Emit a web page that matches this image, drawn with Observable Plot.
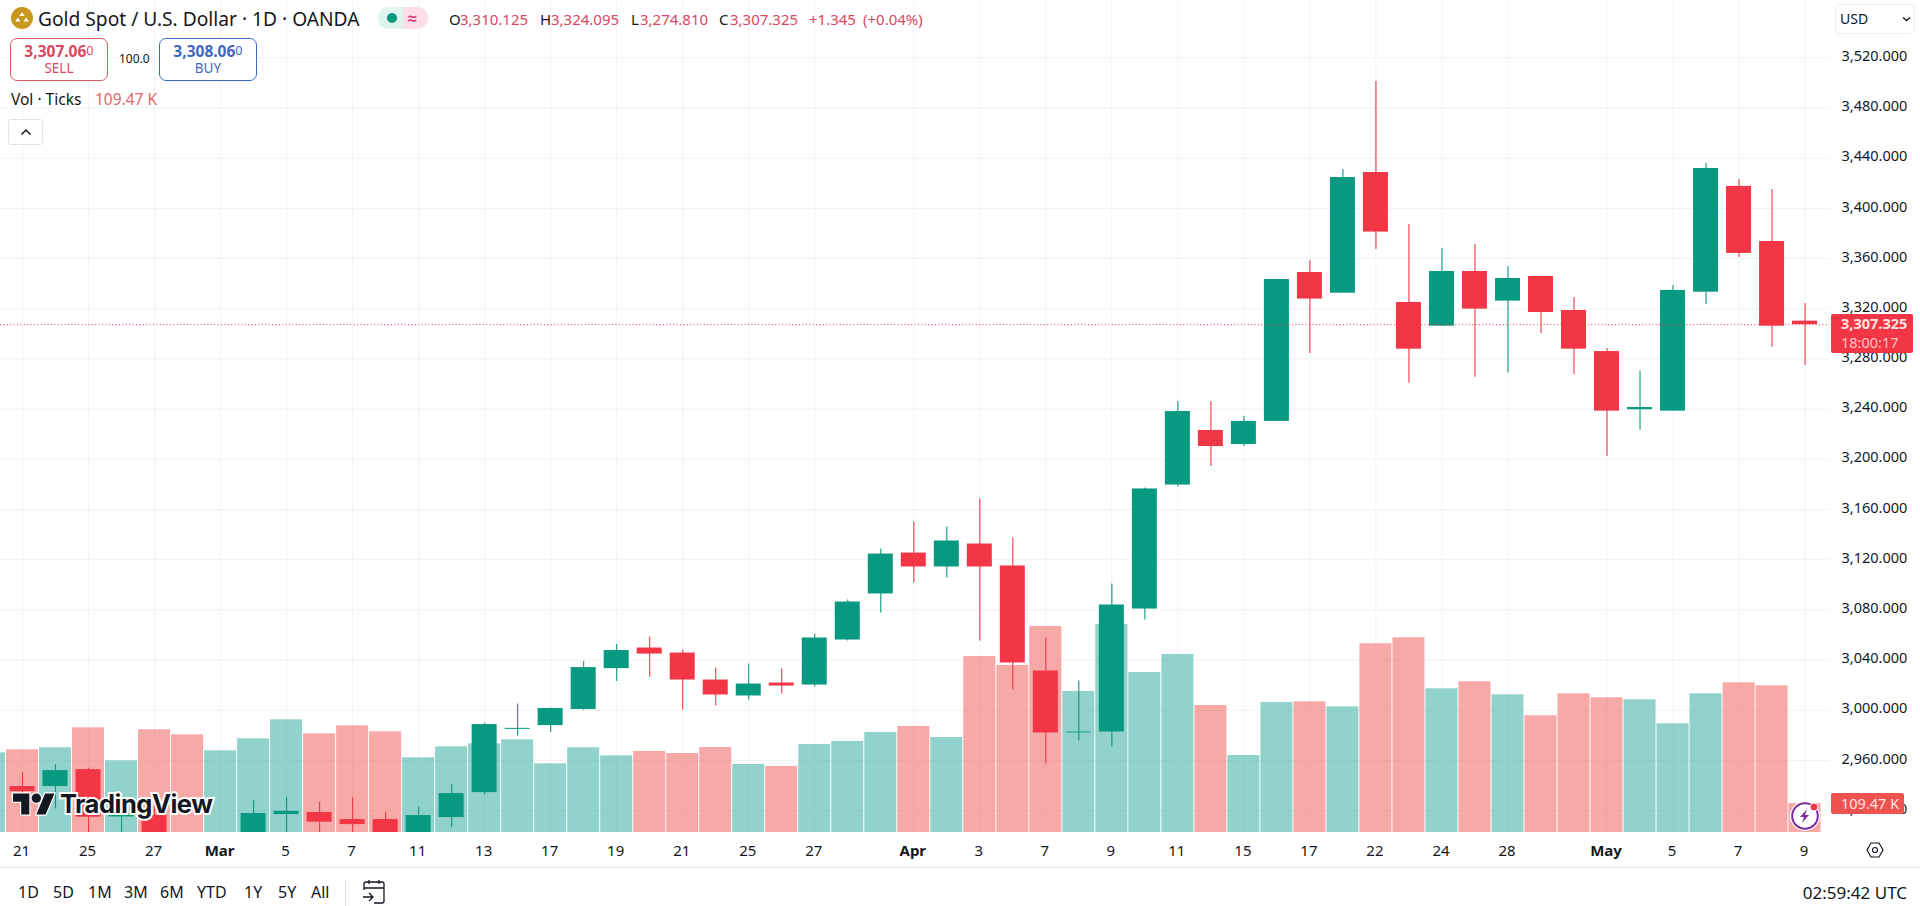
<!DOCTYPE html>
<html>
<head>
<meta charset="utf-8">
<script src="https://cdn.jsdelivr.net/npm/d3@7"></script>
<script src="https://cdn.jsdelivr.net/npm/@observablehq/plot@0.6"></script>
<style>
html,body{margin:0;padding:0;background:#fff;width:1920px;height:906px;overflow:hidden}
body{font-family:"Noto Sans",sans-serif;color:#131722;position:relative}
#chart{position:absolute;left:0;top:0}
.t{position:absolute;white-space:nowrap;line-height:1;transform:translateY(-50%)}
.box{position:absolute;box-sizing:border-box;background:#fff}
.red{color:#d9485e}
sup{font-size:.82em;font-weight:400;vertical-align:baseline;position:relative;top:-.12em}
svg.icon{position:absolute;overflow:visible}
</style>
</head>
<body>
<div id="chart"></div>
<script>
// Session labels, one per bar (first bar is cut off by the left edge)
const sessions = ["Feb 20","21","Feb 24","25","Feb 26","27","Feb 28","Mar","Mar 4","5","Mar 6","7","Mar 10","11","Mar 12","13","Mar 14","17","Mar 18","19","Mar 20","21","Mar 24","25","Mar 26","27","Mar 28","Mar 31","Apr","Apr 2","3","Apr 4","7","Apr 8","9","Apr 10","11","Apr 14","15","Apr 16","17","Apr 21","22","Apr 23","24","Apr 25","28","Apr 29","Apr 30","May","May 2","5","May 6","7","May 8","9"];
const open  = [null,2939.2,2939.2,2952.7,2915.0,2916.2,2884.0,2858.0,2893.0,2916.9,2918.5,2912.9,2912.9,2898.0,2914.5,2934.4,2984.8,2987.8,3000.6,3033.2,3049.6,3045.6,3024.1,3011.4,3021.7,3020.1,3056.0,3092.7,3125.3,3114.2,3132.5,3115.0,3031.3,2982.0,2982.7,3080.7,3179.5,3223.0,3211.8,3230.2,3348.9,3332.4,3428.6,3325.0,3306.1,3349.7,3326.1,3345.7,3318.6,3285.9,3239.5,3238.4,3333.2,3417.5,3373.6,3310.125];
const high  = [null,2950.4,2956.7,2953.8,2922.0,2925.0,2895.0,2896.0,2928.0,2930.7,2926.7,2930.7,2918.7,2922.7,2940.8,2989.7,3005.1,3001.9,3038.8,3052.4,3058.4,3048.0,3033.7,3036.9,3032.9,3060.8,3087.9,3128.5,3150.1,3146.1,3168.4,3137.3,3057.6,3023.3,3100.6,3177.2,3246.1,3246.1,3234.1,3343.3,3358.5,3431.0,3501.1,3387.2,3368.0,3371.2,3353.7,3345.9,3329.0,3288.3,3270.3,3338.5,3435.8,3423.0,3415.1,3324.095];
const low   = [null,2916.0,2921.4,2890.0,2895.0,2875.0,2845.0,2832.0,2888.0,2895.0,2895.0,2895.0,2880.0,2880.0,2906.3,2932.8,2979.3,2982.2,3000.0,3022.9,3026.3,3000.2,3003.4,3008.2,3013.0,3018.5,3055.2,3077.5,3101.4,3105.4,3055.2,3016.2,2957.2,2975.5,2970.7,3071.9,3178.2,3194.3,3210.2,3230.2,3284.4,3332.4,3367.2,3260.7,3306.1,3265.5,3268.7,3300.3,3267.6,3202.5,3223.2,3238.4,3323.4,3360.9,3289.4,3274.81];
const close = [null,2935.2,2951.9,2914.8,2918.0,2884.0,2857.0,2893.0,2917.7,2919.5,2910.8,2908.9,2898.0,2916.1,2933.6,2988.6,2985.6,3001.4,3034.0,3047.6,3044.8,3024.1,3012.2,3020.9,3019.3,3057.6,3086.3,3124.5,3114.2,3134.9,3114.2,3037.7,2981.9,2982.7,3083.9,3176.4,3238.1,3210.2,3230.2,3343.3,3327.7,3424.6,3381.1,3287.8,3349.7,3319.7,3344.1,3317.0,3287.8,3238.4,3241.3,3334.6,3431.8,3364.1,3306.1,3307.325];
const volumeK = [300.4,311.7,319.3,394.7,270.3,387.2,368.3,308.0,353.2,424.9,372.1,402.2,379.6,281.6,323.0,334.4,349.4,258.9,319.3,289.1,305.5,297.9,320.5,256.4,248.9,331.8,343.2,377.1,399.7,358.2,663.7,629.8,776.8,531.7,784.4,603.4,671.2,478.9,290.4,490.2,492.7,473.9,711.5,734.1,541.8,568.2,519.1,440.0,522.9,507.8,500.3,409.8,522.9,564.4,553.1,109.47];
const priceTicks = [2920,2960,3000,3040,3080,3120,3160,3200,3240,3280,3320,3360,3400,3440,3480,3520];
const dayTicks = ["21","25","27","5","7","11","13","17","19","21","25","27","3","7","9","11","15","17","22","24","28","5","7","9"];
const monthTicks = ["Mar","Apr","May"];
const lastPrice = 3307.325;

const bars = sessions.map((label,k)=>({k,label,o:open[k],h:high[k],l:low[k],c:close[k],v:volumeK[k],
  up:(close[k]??1)>=(open[k]??0)}));
const UP="#089981", DOWN="#F23645", VUP="rgba(38,166,154,.5)", VDOWN="rgba(239,83,80,.5)", GRID="#f0f2f6";

// The volume pane shares the frame: its zero sits on the frame's bottom edge
const priceBottom = 2902.6, priceTop = 3565.66, pricePerK = 0.2114;
const volY = v => priceBottom + v*pricePerK;

const isMonth = d => monthTicks.includes(d.label);
const tickBars = bars.filter(d => monthTicks.includes(d.label) || (/^\d+$/.test(d.label) && dayTicks.includes(d.label)));
const label = k => sessions[k];

const plot = Plot.plot({
  width:1920, height:906,
  marginLeft:0, marginRight:91, marginTop:0, marginBottom:74,
  style:{background:"transparent",fontFamily:'"Noto Sans",sans-serif'},
  x:{type:"linear",domain:[0.3335,55.74],axis:null},
  y:{type:"linear",domain:[priceBottom,priceTop],axis:null},
  color:{type:"identity"},
  marks:[
    Plot.ruleX(tickBars,{x:"k",stroke:GRID,strokeWidth:1}),
    Plot.ruleY(priceTicks,{stroke:GRID,strokeWidth:1}),
    Plot.rect(bars,{x1:d=>d.k-.5,x2:d=>d.k+.5,insetLeft:.5,insetRight:.5,y1:()=>priceBottom,y2:d=>volY(d.v),fill:d=>d.up?VUP:VDOWN,clip:true}),
    Plot.ruleX(bars,{x:"k",y1:"l",y2:"h",stroke:d=>d.up?UP:DOWN,strokeWidth:1.1,clip:true}),
    Plot.rect(bars,{x1:d=>d.k-.5,x2:d=>d.k+.5,insetLeft:4,insetRight:4,y1:"o",y2:"c",fill:d=>d.up?UP:DOWN,clip:true}),
    Plot.ruleY([lastPrice],{stroke:DOWN,strokeWidth:1,strokeDasharray:"1 2.4"}),
    Plot.axisY(priceTicks,{anchor:"right",tickSize:0,tickPadding:12,dy:-1.5,tickFormat:d3.format(",.3f"),fontSize:14.5,fill:"#131722",label:null}),
    Plot.axisX(tickBars.filter(d=>!isMonth(d)).map(d=>d.k),{anchor:"bottom",tickSize:0,tickPadding:13,dx:-1,tickFormat:label,fontSize:15,fill:"#131722",label:null}),
    Plot.axisX(tickBars.filter(isMonth).map(d=>d.k),{anchor:"bottom",tickSize:0,tickPadding:13,dx:-1,tickFormat:label,fontSize:15,fontWeight:700,fill:"#131722",label:null})
  ]
});
document.getElementById("chart").appendChild(plot);
</script>

<!-- header -->
<svg class="icon" style="left:11px;top:7px" width="22" height="22" viewBox="0 0 22 22"><circle cx="11" cy="11" r="11" fill="#C9971C"/><path d="M11 5l2.6 4h-5.2zM6.8 10.5l2.6 4H4.2zM15.2 10.5l2.6 4h-5.2z" fill="#fff"/></svg>
<div class="t" style="left:38px;top:19px;font-size:19.2px">Gold Spot / U.S. Dollar · 1D · OANDA</div>
<div class="box" style="left:378px;top:7px;width:25px;height:22px;background:#dff3ef;border-radius:11px 0 0 11px"></div>
<div class="box" style="left:403px;top:7px;width:25px;height:22px;background:#fcdde8;border-radius:0 11px 11px 0"></div>
<div class="box" style="left:387px;top:13px;width:10px;height:10px;border-radius:50%;background:#089981"></div>
<div class="t" style="left:408px;top:18px;font-size:16px;color:#d8337c;font-weight:700">≈</div>

<div class="t" style="left:449px;top:19px;font-size:15px">O</div>
<div class="t red" style="left:460px;top:19px;font-size:15px">3,310.125</div>
<div class="t" style="left:540px;top:19px;font-size:15px">H</div>
<div class="t red" style="left:551px;top:19px;font-size:15px">3,324.095</div>
<div class="t" style="left:631px;top:19px;font-size:15px">L</div>
<div class="t red" style="left:640px;top:19px;font-size:15px">3,274.810</div>
<div class="t" style="left:719px;top:19px;font-size:15px">C</div>
<div class="t red" style="left:730px;top:19px;font-size:15px">3,307.325</div>
<div class="t red" style="left:809px;top:19px;font-size:15px">+1.345</div>
<div class="t red" style="left:863px;top:19px;font-size:15px">(+0.04%)</div>

<div class="box" style="left:10px;top:38px;width:98px;height:43px;border:1px solid #d8596b;border-radius:7px"></div>
<div class="t" style="left:10px;width:98px;text-align:center;top:52px;font-size:15.500px;font-weight:700;color:#d9485e">3,307.06<sup>0</sup></div>
<div class="t" style="left:10px;width:98px;text-align:center;top:69px;font-size:13.500px;color:#d9485e">SELL</div>
<div class="t" style="left:119px;top:59px;font-size:12px">100.0</div>
<div class="box" style="left:159px;top:38px;width:98px;height:43px;border:1px solid #3f66c4;border-radius:7px"></div>
<div class="t" style="left:159px;width:98px;text-align:center;top:52px;font-size:15.500px;font-weight:700;color:#3f66c4">3,308.06<sup>0</sup></div>
<div class="t" style="left:159px;width:98px;text-align:center;top:69px;font-size:13.500px;color:#3f66c4">BUY</div>

<div class="t" style="left:11px;top:100px;font-size:15.500px">Vol · Ticks</div>
<div class="t" style="left:95px;top:100px;font-size:15.500px;color:#e0686b">109.47 K</div>
<div class="box" style="left:8px;top:119px;width:35px;height:26px;border:1px solid #e0e3eb;border-radius:3px"></div>
<svg class="icon" style="left:20px;top:128px" width="12" height="8" viewBox="0 0 12 8"><path d="M1.5 6.5L6 2l4.500 4.500" fill="none" stroke="#131722" stroke-width="1.5"/></svg>

<div class="box" style="left:1835px;top:4px;width:80px;height:30px;border:1px solid #eef0f4;border-radius:4px"></div>
<div class="t" style="left:1840px;top:19px;font-size:14px">USD</div>
<svg class="icon" style="left:1902px;top:16px" width="9" height="6" viewBox="0 0 9 6"><path d="M1 1.500l3.500 3 3.500-3" fill="none" stroke="#131722" stroke-width="1.400"/></svg>

<!-- price tags -->
<div class="box" style="left:1831px;top:314px;width:82px;height:39px;background:#F23645;border-radius:2px"></div>
<div class="t" style="left:1841px;top:323px;font-size:14.5px;color:#fde2e4;font-weight:700">3,307.325</div>
<div class="t" style="left:1841px;top:342px;font-size:14.5px;color:#fbc6cb">18:00:17</div>
<div class="box" style="left:1831px;top:793px;width:73px;height:21px;background:#EF5350;border-radius:2px"></div>
<div class="t" style="left:1841px;top:803px;font-size:14.5px;color:#fde6e6">109.47 K</div>

<!-- TradingView mark -->
<svg class="icon" style="left:13px;top:793px" width="42" height="22" viewBox="0 0 36 18"><g transform="translate(0,-4)" fill="#131722" stroke="#fff" stroke-width="2" paint-order="stroke"><path d="M14 22H7V11H0V4h14v18z"/><circle cx="20" cy="8" r="4"/><path d="M28 22h-8l7.500-18h8L28 22z"/></g></svg>
<div class="t" style="left:60px;top:804px;font-family:Inter,'Noto Sans',sans-serif;font-size:25.5px;font-weight:700;letter-spacing:-.5px;color:#131722;-webkit-text-stroke:4px #fff;paint-order:stroke fill">TradingView</div>

<!-- bolt badge -->
<svg class="icon" style="left:1789px;top:800px" width="32" height="32" viewBox="0 0 32 32"><circle cx="16" cy="16" r="15" fill="#fff"/><circle cx="16" cy="16" r="12.800" fill="#fff" stroke="#7b2d9e" stroke-width="2"/><path d="M18 9l-7 8h4l-2 6 7-8h-4z" fill="#7b2d9e"/><circle cx="25" cy="7" r="4" fill="#F23645" stroke="#fff"/></svg>
<svg class="icon" style="left:1866px;top:841px" width="18" height="18" viewBox="0 0 18 18"><path d="M5 2h8l4 7-4 7H5L1 9z" fill="none" stroke="#131722" stroke-width="1.200"/><circle cx="9" cy="9" r="2.500" fill="none" stroke="#131722" stroke-width="1.200"/></svg>

<!-- bottom toolbar -->
<div class="box" style="left:0;top:867px;width:1920px;height:1px;background:#e0e3eb"></div>
<div class="t" style="left:18px;top:892px;font-size:16px">1D</div>
<div class="t" style="left:53px;top:892px;font-size:16px">5D</div>
<div class="t" style="left:88px;top:892px;font-size:16px">1M</div>
<div class="t" style="left:124px;top:892px;font-size:16px">3M</div>
<div class="t" style="left:160px;top:892px;font-size:16px">6M</div>
<div class="t" style="left:197px;top:892px;font-size:16px">YTD</div>
<div class="t" style="left:244px;top:892px;font-size:16px">1Y</div>
<div class="t" style="left:278px;top:892px;font-size:16px">5Y</div>
<div class="t" style="left:311px;top:892px;font-size:16px">All</div>
<div class="box" style="left:345px;top:879px;width:1px;height:27px;background:#e0e3eb"></div>
<svg class="icon" style="left:362px;top:879px" width="24" height="26" viewBox="0 0 24 26"><path d="M2 11V5a2 2 0 0 1 2-2h16a2 2 0 0 1 2 2v17a2 2 0 0 1-2 2h-8M2 9h20M7 1v4M17 1v4M1 18h10M7 14l4 4-4 4" fill="none" stroke="#131722" stroke-width="1.300"/></svg>
<div class="t" style="right:13px;top:892px;font-size:17px">02:59:42 UTC</div>
</body>
</html>
